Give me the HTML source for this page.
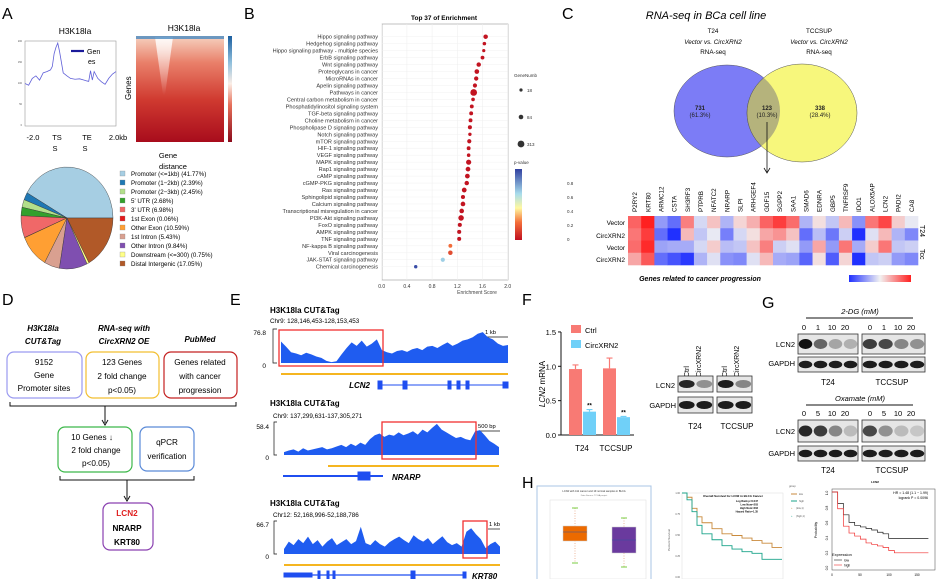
<!DOCTYPE html>
<html><head><meta charset="utf-8"><style>
html,body{margin:0;padding:0;background:#fff}
svg{display:block;font-family:"Liberation Sans",sans-serif}
</style></head><body>
<svg id="fig" width="948" height="579" viewBox="0 0 948 579" xmlns="http://www.w3.org/2000/svg">
<defs>
<linearGradient id="hmA" x1="0" y1="0" x2="0" y2="1"><stop offset="0" stop-color="#f6d2c0"/><stop offset="0.25" stop-color="#e9806a"/><stop offset="0.6" stop-color="#d03a30"/><stop offset="1" stop-color="#a80c1c"/></linearGradient>
<linearGradient id="cbA" x1="0" y1="1" x2="0" y2="0"><stop offset="0" stop-color="#8a0a1a"/><stop offset="0.35" stop-color="#e6705a"/><stop offset="0.55" stop-color="#fbeee6"/><stop offset="0.75" stop-color="#8fbfdc"/><stop offset="1" stop-color="#1b5fa0"/></linearGradient>
<linearGradient id="cbB" x1="0" y1="1" x2="0" y2="0"><stop offset="0" stop-color="#c01020"/><stop offset="0.25" stop-color="#f4703a"/><stop offset="0.45" stop-color="#fff8a0"/><stop offset="0.65" stop-color="#a8dcec"/><stop offset="1" stop-color="#3040a0"/></linearGradient>
<linearGradient id="cbC" x1="0" y1="0" x2="1" y2="0"><stop offset="0" stop-color="#2030ff"/><stop offset="0.5" stop-color="#f2f2f2"/><stop offset="1" stop-color="#ff2020"/></linearGradient>
<linearGradient id="notch" x1="0" y1="0" x2="0" y2="1"><stop offset="0" stop-color="#fff" stop-opacity="0.9"/><stop offset="1" stop-color="#fff" stop-opacity="0"/></linearGradient>
</defs>

<g font-size="16">
<text x="2" y="19">A</text><text x="244" y="19">B</text><text x="562" y="19">C</text>
<text x="2" y="305">D</text><text x="230" y="305">E</text><text x="522" y="305">F</text><text x="762" y="308">G</text><text x="522" y="488">H</text>
</g>

<g>
<text x="75" y="34" font-size="8.5" text-anchor="middle">H3K18la</text>
<rect x="25" y="41" width="91" height="85" fill="none" stroke="#999" stroke-width="0.6"/>
<g id="profLine"></g>
<line x1="71" y1="51" x2="84" y2="51" stroke="#1a1a9a" stroke-width="2.2"/>
<text x="87" y="54" font-size="7">Gen</text><text x="88" y="64" font-size="7">es</text>
<g font-size="7.5" text-anchor="middle">
<text x="33" y="140">-2.0</text><text x="57" y="140">TS</text><text x="55" y="151">S</text>
<text x="87" y="140">TE</text><text x="85" y="151">S</text><text x="118" y="140">2.0kb</text></g>
<g font-size="2.5" fill="#555" text-anchor="end">
<text x="22" y="42">200</text><text x="22" y="63">150</text><text x="22" y="84">100</text><text x="22" y="105">50</text><text x="22" y="126">0</text></g>
</g>
<g>
<text x="184" y="31" font-size="8.5" text-anchor="middle">H3K18la</text>
<rect x="136" y="36" width="88" height="106" fill="url(#hmA)"/>
<polygon points="155,37 173,37 165,95 163,95" fill="url(#notch)"/>
<rect x="136" y="36" width="88" height="3" fill="#4a8ac0" opacity="0.8"/>
<rect x="228" y="36" width="4" height="106" fill="url(#cbA)"/>
<text x="131" y="100" font-size="8" transform="rotate(-90 131 100)">Genes</text>
<text x="168" y="158" font-size="7.5" text-anchor="middle">Gene</text>
<text x="173" y="169" font-size="7.5" text-anchor="middle">distance</text>
</g>
<g id="pie"></g>
<g id="pieLegend" font-size="6.2"></g>

<g>
<text x="444" y="20" font-size="6.5" font-weight="bold" text-anchor="middle">Top 37 of  Enrichment</text>
<rect x="382" y="24" width="126" height="256" fill="#fff" stroke="#999" stroke-width="0.6"/>
<g id="bGrid"></g><g id="bLabels" font-size="5.6" fill="#333" text-anchor="end"></g><g id="bDots"></g>
<g id="bTicks" font-size="5" fill="#333" text-anchor="middle"></g>
<text x="477" y="294" font-size="5" fill="#444" text-anchor="middle">Enrichment Score</text>
<g font-size="4.5" fill="#333">
<text x="514" y="77">GeneNumb</text>
<circle cx="521" cy="90" r="1.6"/><text x="527" y="92">18</text>
<circle cx="521" cy="117" r="2.3"/><text x="527" y="119">84</text>
<circle cx="521" cy="144" r="3.4"/><text x="527" y="146">313</text>
<text x="514" y="164">p-value</text>
<rect x="515" y="169" width="7" height="71" fill="url(#cbB)"/>
<text x="567" y="185">0.8</text><text x="567" y="199">0.6</text><text x="567" y="213">0.4</text><text x="567" y="227">0.2</text><text x="567" y="241">0</text>
</g></g>

<g>
<text x="706" y="19" font-size="11" font-style="italic" text-anchor="middle">RNA-seq in BCa cell line</text>
<g font-size="6.3" text-anchor="middle">
<text x="713" y="33">T24</text><text x="713" y="44" font-style="italic">Vector vs. CircXRN2</text><text x="713" y="54">RNA-seq</text>
<text x="819" y="33">TCCSUP</text><text x="819" y="44" font-style="italic">Vector vs. CircXRN2</text><text x="819" y="54">RNA-seq</text></g>
<ellipse cx="727" cy="111" rx="53" ry="46" fill="#7c7cf6" stroke="#555" stroke-width="0.5"/>
<ellipse cx="802" cy="113" rx="55" ry="49" fill="#f7f77c" stroke="#555" stroke-width="0.5"/>
<clipPath id="vc"><ellipse cx="727" cy="111" rx="53" ry="46"/></clipPath>
<ellipse cx="802" cy="113" rx="55" ry="49" fill="#b5b37c" stroke="#555" stroke-width="0.5" clip-path="url(#vc)"/>
<g font-size="6" text-anchor="middle" fill="#222">
<text x="700" y="110" font-weight="bold">731</text><text x="700" y="117">(61.3%)</text>
<text x="767" y="110" font-weight="bold">123</text><text x="767" y="117">(10.3%)</text>
<text x="820" y="110" font-weight="bold">338</text><text x="820" y="117">(28.4%)</text></g>
<line x1="767" y1="122" x2="767" y2="172" stroke="#111" stroke-width="0.8"/>
<polyline points="764,168 767,173 770,168" fill="none" stroke="#111" stroke-width="0.8"/>
</g>
<g id="cHeat"></g>
<g font-size="6.5" text-anchor="end">
<text x="625" y="225">Vector</text><text x="625" y="238">CircXRN2</text><text x="625" y="250">Vector</text><text x="625" y="262">CircXRN2</text></g>
<text x="920" y="225" font-size="7" transform="rotate(90 920 225)">T24</text>
<text x="920" y="249" font-size="7" transform="rotate(90 920 249)">Tcc</text>
<text x="700" y="281" font-size="7" font-weight="bold" font-style="italic" text-anchor="middle">Genes related to cancer progression</text>
<rect x="849" y="275" width="62" height="7" fill="url(#cbC)"/>

<g text-anchor="middle">
<g font-size="8" font-weight="bold" font-style="italic">
<text x="43" y="331">H3K18la</text><text x="43" y="344">CUT&amp;Tag</text>
<text x="124" y="331">RNA-seq with</text><text x="124" y="344">CircXRN2 OE</text>
<text x="200" y="342">PubMed</text></g>
<g fill="none" stroke-width="1.2">
<rect x="7" y="352" width="75" height="46" rx="7" stroke="#9a9af0"/>
<rect x="86" y="352" width="73" height="46" rx="7" stroke="#f2bf30"/>
<rect x="164" y="352" width="73" height="46" rx="7" stroke="#c42020"/>
<rect x="58" y="427" width="74" height="45" rx="7" stroke="#3cb84a"/>
<rect x="140" y="427" width="54" height="44" rx="7" stroke="#5a8ad8"/>
<rect x="103" y="503" width="50" height="47" rx="7" stroke="#8a40b0"/>
</g>
<g font-size="8.2">
<text x="44" y="365">9152</text><text x="44" y="378">Gene</text><text x="44" y="391">Promoter sites</text>
<text x="122" y="365">123 Genes</text><text x="122" y="379">2 fold change</text><text x="122" y="393">p&lt;0.05)</text>
<text x="200" y="365">Genes related</text><text x="200" y="379">with cancer</text><text x="200" y="393">progression</text>
<text x="92" y="440">10 Genes ↓</text><text x="96" y="453">2 fold change</text><text x="96" y="466">p&lt;0.05)</text>
<text x="167" y="445">qPCR</text><text x="167" y="459">verification</text>
<text x="127" y="516" fill="#e02020" font-weight="bold">LCN2</text><text x="127" y="531" font-weight="bold">NRARP</text><text x="127" y="545" font-weight="bold">KRT80</text></g>
<g stroke="#111" stroke-width="1" fill="none">
<polyline points="10,402 10,406 236,406 236,402"/><line x1="105" y1="406" x2="105" y2="423"/><polyline points="102,420 105,425 108,420"/>
<polyline points="60,476 60,480 194,480 194,476"/><line x1="127" y1="480" x2="127" y2="499"/><polyline points="124,496 127,501 130,496"/></g>
</g>

<g>
<g font-size="8" font-weight="bold"><text x="270" y="313">H3K18la  CUT&amp;Tag</text><text x="270" y="406">H3K18la  CUT&amp;Tag</text><text x="270" y="506">H3K18la  CUT&amp;Tag</text></g>
<g font-size="6.3"><text x="270" y="323">Chr9: 128,146,453-128,153,453</text><text x="273" y="418">Chr9: 137,299,631-137,305,271</text><text x="273" y="517">Chr12: 52,168,996-52,188,786</text></g>
<g font-size="6.5" text-anchor="end"><text x="266" y="335">76.8</text><text x="266" y="368">0</text><text x="269" y="429">58.4</text><text x="269" y="460">0</text><text x="269" y="527">66.7</text><text x="269" y="559">0</text></g>
<g fill="none" stroke="#111" stroke-width="0.7"><polyline points="277,329 273,329 273,363 277,363"/><polyline points="277,422 274,422 274,455 277,455"/><polyline points="277,521 274,521 274,554 277,554"/>
<line x1="476" y1="337" x2="508" y2="337"/><line x1="480" y1="431" x2="500" y2="431"/><line x1="488" y1="529" x2="500" y2="529"/></g>
<g font-size="5.8"><text x="485" y="334">1 kb</text><text x="478" y="428">500 bp</text><text x="489" y="526">1 kb</text></g>
<g id="eTracks"></g>
<g fill="none" stroke="#f03030" stroke-width="1.3"><rect x="279" y="330" width="104" height="36"/><rect x="382" y="422" width="94" height="37"/><rect x="463" y="521" width="24" height="37"/></g>
<g stroke="#f5b520" stroke-width="2"><line x1="281" y1="374" x2="508" y2="374"/><line x1="328" y1="466" x2="499" y2="466"/><line x1="284" y1="565" x2="500" y2="565"/></g>
<g stroke="#1f4ef0" fill="#1f4ef0">
<line x1="378" y1="385" x2="508" y2="385" stroke-width="1"/><rect x="378" y="381" width="4" height="8"/><rect x="403" y="381" width="4" height="8"/><rect x="448" y="381" width="3" height="8"/><rect x="457" y="381" width="3" height="8"/><rect x="466" y="381" width="3" height="8"/><rect x="503" y="382" width="5" height="6"/>
<line x1="283" y1="476" x2="383" y2="476" stroke-width="2"/><rect x="358" y="472" width="12" height="8"/>
<line x1="284" y1="575" x2="466" y2="575" stroke-width="1.2"/><rect x="284" y="573" width="28" height="4"/><rect x="318" y="571" width="2" height="8"/><rect x="327" y="571" width="2" height="8"/><rect x="333" y="571" width="2" height="8"/><rect x="411" y="571" width="4" height="8"/><rect x="463" y="572" width="3" height="6"/></g>
<g font-size="8" font-weight="bold" font-style="italic"><text x="370" y="388" text-anchor="end">LCN2</text><text x="392" y="480">NRARP</text><text x="472" y="579">KRT80</text></g>
</g>

<g id="fBar">
<text x="545" y="384" font-size="8" text-anchor="middle" transform="rotate(-90 545 384)"><tspan font-style="italic">LCN2</tspan> mRNA</text>
<rect x="571" y="325" width="10" height="8" fill="#f87a74"/><text x="585" y="333" font-size="7.5">Ctrl</text>
<rect x="571" y="340" width="10" height="8" fill="#70d0f8"/><text x="585" y="348" font-size="7.5">CircXRN2</text>
</g>
<g id="blots">
<g font-size="7" text-anchor="start">
<text x="689" y="377" transform="rotate(-90 689 377)">Ctrl</text><text x="701" y="377" transform="rotate(-90 701 377)">CircXRN2</text>
<text x="727" y="377" transform="rotate(-90 727 377)">Ctrl</text><text x="739" y="377" transform="rotate(-90 739 377)">CircXRN2</text></g>
<g font-size="7.5" text-anchor="end"><text x="675" y="388">LCN2</text><text x="676" y="408">GAPDH</text>
<text x="795" y="347">LCN2</text><text x="795" y="366">GAPDH</text><text x="795" y="434">LCN2</text><text x="795" y="456">GAPDH</text></g>
<g font-size="8" text-anchor="middle"><text x="695" y="429">T24</text><text x="737" y="429">TCCSUP</text>
<text x="828" y="385">T24</text><text x="892" y="385">TCCSUP</text><text x="828" y="473">T24</text><text x="892" y="473">TCCSUP</text></g>
<g font-size="7.5" font-style="italic" text-anchor="middle"><text x="860" y="314">2-DG (mM)</text><text x="860" y="401">Oxamate (mM)</text></g>
<line x1="806" y1="318" x2="913" y2="318" stroke="#111" stroke-width="1"/><line x1="806" y1="405" x2="913" y2="405" stroke="#111" stroke-width="1"/>
<g font-size="7.5" text-anchor="middle"><text x="804" y="330">0</text><text x="818" y="330">1</text><text x="832" y="330">10</text><text x="845" y="330">20</text><text x="870" y="330">0</text><text x="884" y="330">1</text><text x="898" y="330">10</text><text x="911" y="330">20</text>
<text x="804" y="416">0</text><text x="818" y="416">5</text><text x="832" y="416">10</text><text x="845" y="416">20</text><text x="870" y="416">0</text><text x="884" y="416">5</text><text x="898" y="416">10</text><text x="911" y="416">20</text></g>
</g>

<g>
<rect x="537" y="486" width="114" height="95" fill="#fff" stroke="#a8c4e4" stroke-width="1"/>
<text x="594" y="492" font-size="2.6" text-anchor="middle" fill="#333">LCN2 with 411 cancer and 19 normal samples in BLCA</text>
<text x="594" y="496" font-size="2.2" text-anchor="middle" fill="#777">Data Source: TCGA project</text>
<rect x="550" y="500" width="96" height="79" fill="none" stroke="#ddd" stroke-width="0.5"/>
<g id="hBox"></g>
</g>
<g>
<rect x="682" y="493" width="101" height="86" fill="#fff" stroke="#ddd" stroke-width="0.5"/>
<text x="733" y="497" font-size="3" font-weight="bold" text-anchor="middle">Overall Survival for LCN2 in BLCA Cancer</text>
<g font-size="2.6" text-anchor="end" font-weight="bold"><text x="758" y="502">Log Rank p=0.047</text><text x="758" y="505.5">Low Num=203</text><text x="758" y="509">High Num=203</text><text x="758" y="512.5">Hazard Ratio=1.35</text></g>
<text x="670" y="540" font-size="3" fill="#555" transform="rotate(-90 670 540)" text-anchor="middle">Percent Survival</text>
<g font-size="2.4" fill="#555" text-anchor="end"><text x="680" y="494">1.00</text><text x="680" y="515">0.75</text><text x="680" y="536">0.50</text><text x="680" y="557">0.25</text><text x="680" y="578">0.00</text></g>
<g id="km1"></g>
<g font-size="2.6" fill="#555"><text x="789" y="487">group</text>
<line x1="791" y1="494" x2="797" y2="494" stroke="#c98a3c"/><text x="799" y="495">low</text>
<line x1="791" y1="501" x2="797" y2="501" stroke="#1aa38a"/><text x="799" y="502">high</text>
<text x="791" y="509" fill="#c98a3c">+</text><text x="796" y="509">(low,1)</text>
<text x="791" y="517" fill="#1aa38a">+</text><text x="796" y="517">(high,1)</text></g>
</g>
<g>
<text x="875" y="483" font-size="3" font-weight="bold" text-anchor="middle">LCN2</text>
<rect x="832" y="489" width="103" height="81" fill="#fff" stroke="#444" stroke-width="0.5"/>
<g font-size="3.5" text-anchor="end"><text x="928" y="494">HR = 1.48 (1.1 − 1.99)</text><text x="928" y="499">logrank P = 0.0096</text></g>
<text x="817" y="530" font-size="3.5" transform="rotate(-90 817 530)" text-anchor="middle">Probability</text>
<g font-size="3.2" text-anchor="middle"><text x="828" y="493" transform="rotate(-90 828 493)">1.0</text><text x="828" y="508" transform="rotate(-90 828 508)">0.8</text><text x="828" y="523" transform="rotate(-90 828 523)">0.6</text><text x="828" y="538" transform="rotate(-90 828 538)">0.4</text><text x="828" y="553" transform="rotate(-90 828 553)">0.2</text><text x="828" y="568" transform="rotate(-90 828 568)">0.0</text>
<text x="832" y="576">0</text><text x="860" y="576">50</text><text x="889" y="576">100</text><text x="917" y="576">150</text></g>
<g id="km2"></g>
<text x="832" y="556" font-size="4">Expression</text>
<line x1="834" y1="560" x2="842" y2="560" stroke="#222" stroke-width="0.6"/><text x="844" y="561.5" font-size="3.3">low</text>
<line x1="834" y1="565" x2="842" y2="565" stroke="#f03030" stroke-width="0.6"/><text x="844" y="566.5" font-size="3.3">high</text>
</g>
</svg>
<script>
var NS='http://www.w3.org/2000/svg';
function mk(tag,attrs,parent){var e=document.createElementNS(NS,tag);for(var k in attrs)e.setAttribute(k,attrs[k]);(parent||document.getElementById('fig')).appendChild(e);return e;}

var profPos=[0,0.04,0.08,0.12,0.16,0.2,0.24,0.28,0.3,0.32,0.34,0.36,0.38,0.42,0.46,0.5,0.55,0.6,0.65,0.68,0.7,0.72,0.74,0.76,0.8,0.84,0.88,0.9,0.92,0.96,1];
var profVal=[100,96,112,118,108,125,128,132,140,170,185,195,175,125,118,112,110,111,108,106,105,130,108,128,112,104,98,105,112,122,128];
function pxA(f){return 25+f*91;} function pyA(v){return 126-v/200*85;}
var pts=profPos.map(function(f,i){return pxA(f)+','+pyA(profVal[i]);}).join(' ');
var el=mk('polyline',{points:pts,fill:'none',stroke:'#6060d8','stroke-width':0.8},document.getElementById('profLine'));



var pieLabels=['Promoter (<=1kb) (41.77%)','Promoter (1−2kb) (2.39%)','Promoter (2−3kb) (2.45%)',"5' UTR (2.68%)","3' UTR (6.98%)",'1st Exon (0.06%)','Other Exon (10.59%)','1st Intron (5.43%)','Other Intron (9.84%)','Downstream (<=300) (0.75%)','Distal Intergenic (17.05%)'];
var pieVals=[41.77,2.39,2.45,2.68,6.98,0.06,10.59,5.43,9.84,0.75,17.05];
var pieCols=['#a6cee3','#1f78b4','#b2df8a','#33a02c','#f06868','#e31a1c','#ff9f33','#d9a090','#7f4fb0','#ffff88','#b15928'];
var pcx=67,pcy=218,prx=46,pry=51,tot=pieVals.reduce(function(a,b){return a+b;},0),ang=0;
var pieG=document.getElementById('pie');
pieVals.forEach(function(v,i){
  var a0=ang,a1=ang+v/tot*2*Math.PI;ang=a1;
  var x0=pcx+prx*Math.cos(a0),y0=pcy-pry*Math.sin(a0),x1=pcx+prx*Math.cos(a1),y1=pcy-pry*Math.sin(a1);
  var large=(a1-a0)>Math.PI?1:0;
  var s=mk('path',{d:'M'+pcx+','+pcy+' L'+x0+','+y0+' A'+prx+','+pry+' 0 '+large+' 0 '+x1+','+y1+' Z',fill:pieCols[i],stroke:'#333','stroke-width':0.4},pieG);
  
  
});
var plg=document.getElementById('pieLegend');
pieLabels.forEach(function(t,i){
  var y=176+i*9;
  var r=mk('rect',{x:120,y:y-5,width:5,height:5,fill:pieCols[i],stroke:'#888','stroke-width':0.3},plg);
  
  
  var tx=mk('text',{x:131,y:y},plg);tx.textContent=t;
  
  
});

var bPathways=['Hippo signaling pathway','Hedgehog signaling pathway','Hippo signaling pathway - multiple species','ErbB signaling pathway','Wnt signaling pathway','Proteoglycans in cancer','MicroRNAs in cancer','Apelin signaling pathway','Pathways in cancer','Central carbon metabolism in cancer','Phosphatidylinositol signaling system','TGF-beta signaling pathway','Choline metabolism in cancer','Phospholipase D signaling pathway','Notch signaling pathway','mTOR signaling pathway','HIF-1 signaling pathway','VEGF signaling pathway','MAPK signaling pathway','Rap1 signaling pathway','cAMP signaling pathway','cGMP-PKG signaling pathway','Ras signaling pathway','Sphingolipid signaling pathway','Calcium signaling pathway','Transcriptional misregulation in cancer','PI3K-Akt signaling pathway','FoxO signaling pathway','AMPK signaling pathway','TNF signaling pathway','NF-kappa B signaling pathway','Viral carcinogenesis','JAK-STAT signaling pathway','Chemical carcinogenesis'];
var bScores=[1.65,1.63,1.62,1.60,1.54,1.51,1.50,1.48,1.46,1.45,1.43,1.42,1.41,1.40,1.40,1.39,1.38,1.38,1.38,1.37,1.36,1.35,1.31,1.29,1.29,1.27,1.26,1.24,1.23,1.23,1.09,1.09,0.97,0.54];
var bGenes=[80,30,18,40,75,90,70,60,280,35,45,45,45,55,25,60,45,30,130,95,95,75,100,55,90,85,160,55,55,50,45,80,60,25];
var bPvals=[0.01,0.01,0.01,0.01,0.01,0.01,0.01,0.01,0.01,0.01,0.01,0.01,0.01,0.01,0.01,0.01,0.01,0.01,0.01,0.01,0.01,0.01,0.01,0.01,0.01,0.01,0.01,0.01,0.01,0.01,0.24,0.16,0.68,0.97];
var bTickVals=[0,0.4,0.8,1.2,1.6,2.0];
var bTickLabels=['0.0','0.4','0.8','1.2','1.6','2.0'];
function xB(v){return 381.7+v*63;} function yB(i){return 36.7+i*6.97;}
function pCol(p){var st=[[0,[192,16,32]],[0.25,[244,112,58]],[0.45,[255,248,160]],[0.65,[168,220,236]],[1,[48,64,160]]];for(var k=1;k<st.length;k++){if(p<=st[k][0]){var t=(p-st[k-1][0])/(st[k][0]-st[k-1][0]);var c=st[k-1][1].map(function(a,j){return Math.round(a+(st[k][1][j]-a)*t);});return 'rgb('+c+')';}}return 'rgb(48,64,160)';}
var bg=document.getElementById('bGrid');
bTickVals.forEach(function(v,i){
  var l=mk('line',{x1:xB(v),y1:24,x2:xB(v),y2:280,stroke:'#eee','stroke-width':0.5},bg);
  
  
  var t=mk('text',{x:xB(v),y:288},document.getElementById('bTicks'));t.textContent=bTickLabels[i];
  
  
});
bPathways.forEach(function(n,i){
  var l=mk('line',{x1:382,y1:yB(i),x2:508,y2:yB(i),stroke:'#eee','stroke-width':0.4},bg);
  
  
  var t=mk('text',{x:378,y:yB(i)+2},document.getElementById('bLabels'));t.textContent=n;
  
  
  var c=mk('circle',{cx:xB(bScores[i]),cy:yB(i),r:1+Math.sqrt(bGenes[i])*0.14,fill:pCol(bPvals[i])},document.getElementById('bDots'));
  
  
});

var cGenes=['P2RY2','KRT80','ARMC12','CSTA','SH3RF3','PTPRB','NFATC2','NRARP','SLPI','ARHGEF4','GDF15','SGPP2','SAA1','SMAD6','EDNRA','GBP5','TNFRSF9','IDO1','ALOX5AP','LCN2','PADI2','CA8'];
var cRow1=[1.5,2.2,-1,-1.5,1.2,-0.3,0.5,-0.7,0.3,0.7,1.5,1.9,1.4,-0.7,0.2,-0.5,0.6,-1.1,1.3,1.8,0.4,-0.1];
var cRow2=[1.3,1.9,-1.5,-2.2,0.6,-0.5,-0.1,-1.3,-0.3,0.2,0.8,1.0,0.5,-1.5,-0.6,-1.4,-0.4,-2.2,-0.2,0.6,-0.7,-1.2];
var cRow3=[1.4,2.1,-0.9,-0.8,-0.8,-0.3,0.4,-0.6,-0.5,0.5,1.2,-0.4,-0.2,-1.0,0.8,-1.0,1.3,-0.8,0.4,1.3,-0.5,-0.4];
var cRow4=[0.8,1.6,-1.5,-1.8,-2.1,-0.7,-0.2,-1.1,-1.2,-0.2,0.6,-0.8,-0.9,-1.6,0.2,-1.7,0.3,-2.2,-0.5,-0.4,-1.0,-1.2];
var cRows=[cRow1,cRow2,cRow3,cRow4];
function hCol(v){var t=Math.max(-1,Math.min(1,v/2.2));var w=[242,242,242];var e=t<0?[32,48,255]:[255,32,32];var a=Math.abs(t);return 'rgb('+w.map(function(x,j){return Math.round(x+(e[j]-x)*a);})+')';}
var hx0=628,cw=(918-628)/22,hy0=216,rh=12.25,ch=document.getElementById('cHeat');
cRows.forEach(function(row,r){row.forEach(function(v,c){
  var e=mk('rect',{x:hx0+c*cw,y:hy0+r*rh,width:cw+0.3,height:rh+0.3,fill:hCol(v)},ch);
  
  
});});
cGenes.forEach(function(g,c){
  var x=hx0+c*cw+cw/2+2.5;
  var t=mk('text',{x:x,y:212,'font-size':6.3,transform:'rotate(-90 '+x+' 212)'},ch);t.textContent=g;
  
  
});

var eLcn2=[50,38,25,22,18,24,20,15,12,5,2,4,20,35,48,40,52,38,45,55,30,25,22,28,30,26,32,35,30,38,40,35,42,48,40,45,52,55,60,68,72,60,55,45,40,42];
var eNrarp=[5,8,10,6,12,8,10,12,14,10,12,15,18,14,20,16,22,18,28,35,38,32,36,34,40,35,38,42,36,45,40,48,55,45,40,35,30,32,28,26,42,44,35,25,20,14];
var eKrt80=[10,25,18,30,22,35,20,28,15,25,32,18,24,30,20,26,55,22,18,28,20,15,24,30,35,28,22,38,30,25,32,20,28,36,24,18,22,15,45,52,40,30,12,20,25,15];
var eTrackDefs=[[eLcn2,281,508,363,33,76.8,'lcn2'],[eNrarp,284,499,455,33,58.4,'nrarp'],[eKrt80,284,500,554,33,66.7,'krt80']];
eTrackDefs.forEach(function(d){
  var vals=d[0],x0=d[1],x1=d[2],base=d[3],h=d[4],mx=d[5];
  var p='M'+x0+','+base;
  vals.forEach(function(v,i){var x=x0+(x1-x0)*i/(vals.length-1);p+=' L'+x+','+(base-v/mx*h);});
  p+=' L'+x1+','+base+' Z';
  var e=mk('path',{d:p,fill:'#1f5cf0'},document.getElementById('eTracks'));
  
  
});

var fGroups=['T24','TCCSUP'];
var fCtrl=[0.96,0.97];
var fCirc=[0.34,0.26];
var fCtrlErr=[0.06,0.15];
var fCircErr=[0.03,0.01];
var fTicks=[0,0.5,1.0,1.5];
var fTickLabels=['0.0','0.5','1.0','1.5'];
function yF(v){return 435-v*68.7;}
var fg=document.getElementById('fBar');
var ax=mk('line',{x1:561,y1:yF(1.5),x2:561,y2:435,stroke:'#111','stroke-width':1},fg);


var ax2=mk('line',{x1:561,y1:435,x2:634,y2:435,stroke:'#111','stroke-width':1},fg);


fTicks.forEach(function(v,i){
  var l=mk('line',{x1:558,y1:yF(v),x2:561,y2:yF(v),stroke:'#111','stroke-width':1},fg);
  
  
  var t=mk('text',{x:556,y:yF(v)+3,'font-size':7.5,'text-anchor':'end'},fg);t.textContent=fTickLabels[i];
  
  
});
fGroups.forEach(function(g,i){
  var gx=569+i*34;
  [[fCtrl[i],fCtrlErr[i],'#f87a74',0,'ctrl'],[fCirc[i],fCircErr[i],'#70d0f8',14,'circ']].forEach(function(b){
    var bx=gx+b[3];
    var r=mk('rect',{x:bx,y:yF(b[0]),width:13,height:435-yF(b[0]),fill:b[2]},fg);
    
    
    var e=mk('path',{d:'M'+(bx+6.5)+','+yF(b[0])+' V'+yF(b[0]+b[1])+' M'+(bx+3.5)+','+yF(b[0]+b[1])+' H'+(bx+9.5),stroke:b[2],'stroke-width':1.2,fill:'none'},fg);
    
    
    if(b[4]==='circ'){var s=mk('text',{x:bx+6.5,y:yF(b[0]+b[1])-2,'font-size':6,'text-anchor':'middle','font-weight':'bold'},fg);s.textContent='**';
      
      }
  });
  var t=mk('text',{x:gx+13,y:451,'font-size':8,'text-anchor':'middle'},fg);t.textContent=g;
  
  
});

var blotF_LCN2=[0.9,0.4,0.95,0.45];
var blotG_DG_T24=[1,0.6,0.3,0.25];
var blotG_DG_TCC=[0.8,0.75,0.45,0.4];
var blotG_OX_T24=[0.9,0.8,0.45,0.2];
var blotG_OX_TCC=[0.75,0.4,0.2,0.15];
var bl=document.getElementById('blots');
function blot(x,y,w,h,ints,name){
  var r=mk('rect',{x:x,y:y,width:w,height:h,fill:'#e6e6e6',stroke:'#333','stroke-width':0.8},bl);
  
  
  var lw=w/ints.length;
  ints.forEach(function(v,i){
    var e=mk('ellipse',{cx:x+lw*i+lw/2,cy:y+h/2,rx:lw*0.45,ry:h*0.25,fill:'#111','fill-opacity':v},bl);
    
    
  });
}
blot(678,376,35,16,blotF_LCN2.slice(0,2),'blot-f-t24-lcn2');
blot(717,376,35,16,blotF_LCN2.slice(2,4),'blot-f-tccsup-lcn2');
blot(678,397,35,16,[0.95,0.95],'blot-f-t24-gapdh');
blot(717,397,35,16,[0.95,0.95],'blot-f-tccsup-gapdh');
blot(798,334,60,20,blotG_DG_T24,'blot-2dg-t24-lcn2');
blot(862,334,63,20,blotG_DG_TCC,'blot-2dg-tccsup-lcn2');
blot(798,357,60,15,[0.95,0.95,0.95,0.95],'blot-2dg-t24-gapdh');
blot(862,357,63,15,[0.95,0.95,0.95,0.95],'blot-2dg-tccsup-gapdh');
blot(798,420,60,22,blotG_OX_T24,'blot-ox-t24-lcn2');
blot(862,420,63,22,blotG_OX_TCC,'blot-ox-tccsup-lcn2');
blot(798,446,60,15,[0.95,0.95,0.95,0.95],'blot-ox-t24-gapdh');
blot(862,446,63,15,[0.95,0.95,0.95,0.95],'blot-ox-tccsup-gapdh');

var hBoxNames=['Tumor','Normal'];
var hBoxQ1=[-1.6,-4.0];
var hBoxMed=[0.2,-1.4];
var hBoxQ3=[1.4,1.2];
var hBoxMin=[-6.0,-6.8];
var hBoxMax=[5.0,3.0];
var hBoxCols=['#ec6a00','#6a3a9e'];
function yH(v){return 533-v*5;}
var hb=document.getElementById('hBox');
hBoxNames.forEach(function(n,i){
  var cx=575+i*49;
  var w=mk('line',{x1:cx,y1:yH(hBoxMax[i]),x2:cx,y2:yH(hBoxMin[i]),stroke:'#e08a60','stroke-width':0.6,'stroke-dasharray':'1,1.5'},hb);
  
  
  [hBoxMax[i],hBoxMin[i]].forEach(function(v){var c=mk('line',{x1:cx-3,y1:yH(v),x2:cx+3,y2:yH(v),stroke:'#7acc40','stroke-width':1},hb);
    
    });
  var r=mk('rect',{x:cx-12,y:yH(hBoxQ3[i]),width:24,height:yH(hBoxQ1[i])-yH(hBoxQ3[i]),fill:hBoxCols[i],stroke:'#ccc','stroke-width':0.5},hb);
  
  
  var m=mk('line',{x1:cx-12,y1:yH(hBoxMed[i]),x2:cx+12,y2:yH(hBoxMed[i]),stroke:'#3050a0','stroke-width':0.6},hb);
  
  
});

var km1Time=[0,0.05,0.1,0.15,0.2,0.3,0.4,0.5,0.6,0.7,0.8,0.9,1.0];
var km1Low=[1,0.95,0.82,0.72,0.65,0.58,0.52,0.5,0.47,0.44,0.41,0.36,0.36];
var km1High=[1,0.92,0.78,0.62,0.52,0.45,0.38,0.34,0.31,0.29,0.22,0.22,0.22];
var km2Time=[0,10,20,30,40,50,60,70,80,90,100,110,170];
var km2Low=[1,0.85,0.7,0.6,0.56,0.54,0.52,0.5,0.47,0.45,0.39,0.39,0.39];
var km2High=[1,0.78,0.55,0.46,0.42,0.38,0.33,0.31,0.29,0.27,0.23,0.2,0.2];
function step(ts,vs,fx,fy){var d='M'+fx(ts[0])+','+fy(vs[0]);for(var i=1;i<ts.length;i++){d+=' H'+fx(ts[i])+' V'+fy(vs[i]);}return d;}
function x1k(t){return 682+t*100;} function y1k(v){return 578-v*85;}
function x2k(t){return 832+t*0.567;} function y2k(v){return 568-v*76;}
[[km1Low,'#c98a3c','km1-low'],[km1High,'#1aa38a','km1-high']].forEach(function(s){
  var p=mk('path',{d:step(km1Time,s[0],x1k,y1k),fill:'none',stroke:s[1],'stroke-width':0.9},document.getElementById('km1'));
  
  
});
[[km2Low,'#222','km2-low'],[km2High,'#f03030','km2-high']].forEach(function(s){
  var p=mk('path',{d:step(km2Time,s[0],x2k,y2k),fill:'none',stroke:s[1],'stroke-width':0.7},document.getElementById('km2'));
  
  
});
</script>
</body></html>
